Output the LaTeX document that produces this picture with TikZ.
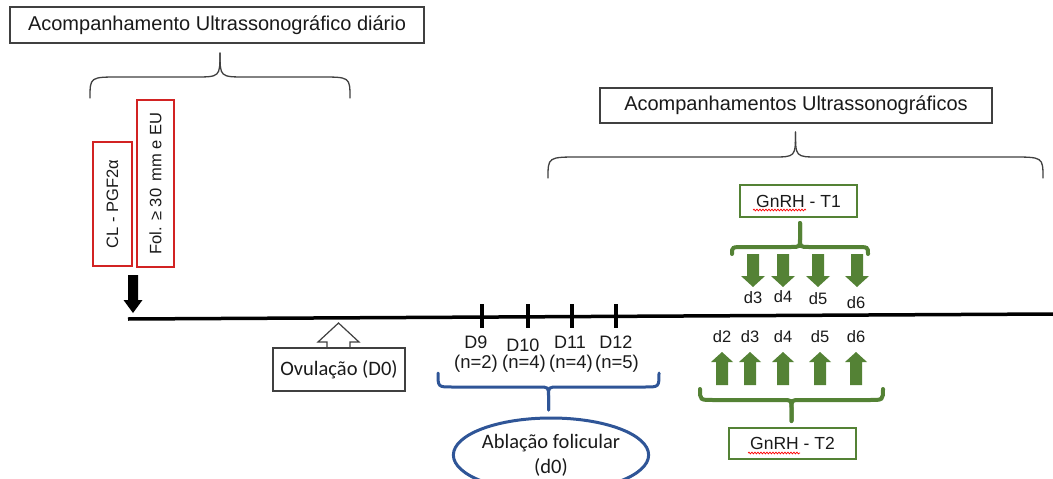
\documentclass[tikz,border=0pt]{standalone}
\usepackage{fontspec}
\setmainfont{Liberation Sans}
\newfontfamily\calfont{Carlito}
\usetikzlibrary{shapes.geometric,decorations.pathmorphing}
\definecolor{myred}{RGB}{210,35,35}
\definecolor{mygreen}{RGB}{84,130,53}
\definecolor{myblue}{RGB}{47,85,151}
\definecolor{mygray}{RGB}{64,64,64}
\definecolor{txt}{RGB}{26,26,26}
\newcommand{\mybrace}[9]{%
 \draw[#1] (#2,#4) .. controls (#2,#5) .. ({#2+#7},#5) -- ({(#2+#3)/2-#8},#5) .. controls ({(#2+#3)/2},#5) .. ({(#2+#3)/2},{#5+(#6-#5)*#9}) -- ({(#2+#3)/2},#6);
 \draw[#1] (#3,#4) .. controls (#3,#5) .. ({#3-#7},#5) -- ({(#2+#3)/2+#8},#5) .. controls ({(#2+#3)/2},#5) .. ({(#2+#3)/2},{#5+(#6-#5)*#9}) -- ({(#2+#3)/2},#6);
}
\newcommand{\blockarrow}[7]{%
 \fill[#1] ({#2-#6},#3) -- ({#2-#6},#4) -- ({#2-#7},#4) -- (#2,#5) -- ({#2+#7},#4) -- ({#2+#6},#4) -- ({#2+#6},#3) -- cycle;
}
\tikzset{
 hbox/.style={draw=mygray, line width=1.2pt, inner sep=0pt, text=txt, font=\fontsize{20}{24}\selectfont},
 redbox/.style={draw=myred, line width=1.5pt, inner sep=0pt, rotate=90, text=txt, font=\fontsize{16.5}{20}\selectfont},
 gbox/.style={draw=mygreen, line width=1.5pt, inner sep=0pt, text=txt, font=\fontsize{17.5}{20}\selectfont},
 calbox/.style={draw=mygray, line width=1.2pt, inner sep=0pt, text=txt, font=\calfont\fontsize{20.5}{25}\selectfont},
 dlab/.style={inner sep=0pt, text=txt, font=\fontsize{18}{20}\selectfont},
 nlab/.style={inner sep=0pt, text=txt, font=\fontsize{18.5}{20}\selectfont},
 glab/.style={inner sep=0pt, text=txt, font=\fontsize{16.5}{20}\selectfont},
 graybrace/.style={draw=mygray, line width=1.3pt, line cap=round},
 greenbrace/.style={draw=mygreen, line width=4pt, line cap=round},
 bluebrace/.style={draw=myblue, line width=3pt, line cap=round},
 squig/.style={draw=red, line width=0.7pt, decorate, decoration={snake, amplitude=0.9pt, segment length=3pt}},
}
\begin{document}
\begin{tikzpicture}[x=1pt,y=-1pt]
\useasboundingbox (0,0) rectangle (1053,479);
\clip (0,0) rectangle (1053,479);
\fill[white] (0,0) rectangle (1053,479);

% headings
\node[hbox, minimum width=414pt, minimum height=36pt] (h1) at (217,25) {Acompanhamento Ultrassonográfico diário};
\node[hbox, minimum width=392pt, minimum height=35pt] (h2) at (796,105.5) {Acompanhamentos Ultrassonográficos};

% braces
\mybrace{graybrace}{90}{350}{98}{77}{53}{30}{26}{1}
\mybrace{graybrace}{548}{1043}{178}{157}{132}{32}{23}{1}
\mybrace{greenbrace}{732}{868}{254}{247}{223}{12}{9}{0.35}
\mybrace{greenbrace}{700}{883}{389}{400}{421}{13}{9}{0.4}
\mybrace{bluebrace}{438}{659}{373}{387}{410}{14}{10}{0.4}

% red vertical boxes
\node[redbox, minimum width=124pt, minimum height=39pt] (cl) at (112.5,204) {CL - PGF2α};
\node[redbox, minimum width=167pt, minimum height=37pt] (fol) at (155.5,183.5) {Fol. ≥ 30 \,mm e EU};

% timeline
\coordinate (t0) at (128,319);
\coordinate (t1) at (1053,314);
\draw[black, line width=3.5pt] (t0) -- (t1);

% black arrow
\blockarrow{black}{133}{275}{300}{313}{5}{9.5}

% ticks
\fill[black] (480,304) rectangle (484,328);
\fill[black] (526,304) rectangle (530,328);
\fill[black] (570,304) rectangle (574,328);
\fill[black] (614,304) rectangle (618,328);

% D labels
\node[dlab] (d9) at (476,342) {D9};
\node[dlab] (d10) at (523,345) {D10};
\node[dlab] (d11) at (570,342) {D11};
\node[dlab] (d12) at (616,342) {D12};
\node[nlab] (n2) at (476,364) {(n=2)};
\node[nlab] (n4a) at (524,364) {(n=4)};
\node[nlab] (n4b) at (571,364) {(n=4)};
\node[nlab] (n5) at (617,364) {(n=5)};

% ovulation
\node[calbox, minimum width=132pt, minimum height=43pt] (ov) at (339,369.5) {Ovulação (D0)};
\draw[mygray, line width=1.2pt, line join=miter] (327,348) -- (327,342) -- (318,342) -- (338.5,323) -- (359,342) -- (350,342) -- (350,348);

% ablation ellipse
\node[ellipse, draw=myblue, line width=3pt, minimum width=178pt, minimum height=74pt, inner sep=0pt, align=center, text=txt, font=\calfont\fontsize{20.5}{25}\selectfont] (abl) at (551,455) {Ablação folicular\\(d0)};

% GnRH boxes
\node[gbox, minimum width=117pt, minimum height=32pt] (g1) at (798.5,201) {GnRH - T1};
\node[gbox, minimum width=127pt, minimum height=31pt] (g2) at (792.5,443.5) {GnRH - T2};
\draw[squig] (753,210) -- (806,210);
\draw[squig] (748,453) -- (800,453);

% green arrows down (T1)
\foreach \x in {753,783,818,857}{
 \blockarrow{mygreen}{\x}{254}{276}{287}{6}{12}
}
\node[glab] (a3) at (753,298) {d3};
\node[glab] (a4) at (783,297) {d4};
\node[glab] (a5) at (818,299) {d5};
\node[glab] (a6) at (856,303) {d6};

% green arrows up (T2)
\foreach \x in {722,750,783,820,856}{
 \blockarrow{mygreen}{\x}{385}{362}{352}{6}{11}
}
\node[glab] (b2) at (722,337) {d2};
\node[glab] (b3) at (750,337) {d3};
\node[glab] (b4) at (783,337) {d4};
\node[glab] (b5) at (820,337) {d5};
\node[glab] (b6) at (856,337) {d6};
\end{tikzpicture}
\end{document}
